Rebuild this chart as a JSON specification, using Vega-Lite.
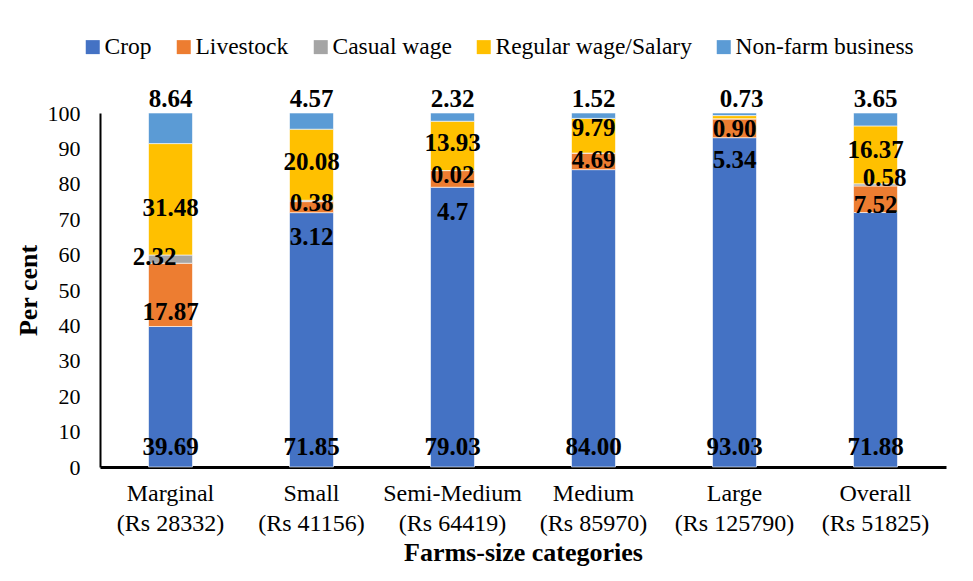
{
  "$schema": "https://vega.github.io/schema/vega-lite/v6.json",
  "width": 846,
  "height": 354,
  "autosize": "none",
  "padding": {"left": 100, "top": 113, "right": 27, "bottom": 114},
  "background": "white",
  "config": {"view": {"stroke": null}, "font": "Liberation Serif"},
  "data": {"values": [
    {"cat": "Marginal (Rs 28332)", "series": "Crop", "ord": 1, "value": 39.69, "label": "39.69"},
    {"cat": "Marginal (Rs 28332)", "series": "Livestock", "ord": 2, "value": 17.87, "label": "17.87"},
    {"cat": "Marginal (Rs 28332)", "series": "Casual wage", "ord": 3, "value": 2.32, "label": "2.32"},
    {"cat": "Marginal (Rs 28332)", "series": "Regular wage/Salary", "ord": 4, "value": 31.48, "label": "31.48"},
    {"cat": "Marginal (Rs 28332)", "series": "Non-farm business", "ord": 5, "value": 8.64, "label": "8.64"},
    {"cat": "Small (Rs 41156)", "series": "Crop", "ord": 1, "value": 71.85, "label": "71.85"},
    {"cat": "Small (Rs 41156)", "series": "Livestock", "ord": 2, "value": 3.12, "label": "3.12"},
    {"cat": "Small (Rs 41156)", "series": "Casual wage", "ord": 3, "value": 0.38, "label": "0.38"},
    {"cat": "Small (Rs 41156)", "series": "Regular wage/Salary", "ord": 4, "value": 20.08, "label": "20.08"},
    {"cat": "Small (Rs 41156)", "series": "Non-farm business", "ord": 5, "value": 4.57, "label": "4.57"},
    {"cat": "Semi-Medium (Rs 64419)", "series": "Crop", "ord": 1, "value": 79.03, "label": "79.03"},
    {"cat": "Semi-Medium (Rs 64419)", "series": "Livestock", "ord": 2, "value": 4.7, "label": "4.7"},
    {"cat": "Semi-Medium (Rs 64419)", "series": "Casual wage", "ord": 3, "value": 0.02, "label": "0.02"},
    {"cat": "Semi-Medium (Rs 64419)", "series": "Regular wage/Salary", "ord": 4, "value": 13.93, "label": "13.93"},
    {"cat": "Semi-Medium (Rs 64419)", "series": "Non-farm business", "ord": 5, "value": 2.32, "label": "2.32"},
    {"cat": "Medium (Rs 85970)", "series": "Crop", "ord": 1, "value": 84.0, "label": "84.00"},
    {"cat": "Medium (Rs 85970)", "series": "Livestock", "ord": 2, "value": 4.69, "label": "4.69"},
    {"cat": "Medium (Rs 85970)", "series": "Casual wage", "ord": 3, "value": 0, "label": ""},
    {"cat": "Medium (Rs 85970)", "series": "Regular wage/Salary", "ord": 4, "value": 9.79, "label": "9.79"},
    {"cat": "Medium (Rs 85970)", "series": "Non-farm business", "ord": 5, "value": 1.52, "label": "1.52"},
    {"cat": "Large (Rs 125790)", "series": "Crop", "ord": 1, "value": 93.03, "label": "93.03"},
    {"cat": "Large (Rs 125790)", "series": "Livestock", "ord": 2, "value": 5.34, "label": "5.34"},
    {"cat": "Large (Rs 125790)", "series": "Casual wage", "ord": 3, "value": 0, "label": ""},
    {"cat": "Large (Rs 125790)", "series": "Regular wage/Salary", "ord": 4, "value": 0.9, "label": "0.90"},
    {"cat": "Large (Rs 125790)", "series": "Non-farm business", "ord": 5, "value": 0.73, "label": "0.73"},
    {"cat": "Overall (Rs 51825)", "series": "Crop", "ord": 1, "value": 71.88, "label": "71.88"},
    {"cat": "Overall (Rs 51825)", "series": "Livestock", "ord": 2, "value": 7.52, "label": "7.52"},
    {"cat": "Overall (Rs 51825)", "series": "Casual wage", "ord": 3, "value": 0.58, "label": "0.58"},
    {"cat": "Overall (Rs 51825)", "series": "Regular wage/Salary", "ord": 4, "value": 16.37, "label": "16.37"},
    {"cat": "Overall (Rs 51825)", "series": "Non-farm business", "ord": 5, "value": 3.65, "label": "3.65"}
  ]},
  "transform": [
    {"stack": "value", "groupby": ["cat"], "sort": [{"field": "ord"}], "as": ["y0", "y1"]},
    {"calculate": "split(datum.cat, ' (')[0] + '|' + datum.series", "as": "key"}
  ],
  "encoding": {
    "x": {
      "field": "cat", "type": "nominal", "sort": null,
      "scale": {"paddingInner": 0.688, "paddingOuter": 0.344},
      "axis": {
        "title": "Farms-size categories", "titleFontSize": 26, "titleFontWeight": "bold",
        "titleFont": "Liberation Serif", "titleColor": "black", "titlePadding": 4,
        "labelExpr": "[split(datum.value, ' (')[0], '(' + split(datum.value, ' (')[1]]",
        "labelFontSize": 24, "labelFont": "Liberation Serif", "labelColor": "black",
        "labelPadding": 14, "labelLineHeight": 30, "labelAngle": 0, "labelLimit": 200,
        "ticks": false, "domainColor": "black", "domainWidth": 3
      }
    }
  },
  "layer": [
    {
      "mark": {"type": "bar", "stroke": "white", "strokeWidth": 0.6},
      "encoding": {
        "y": {
          "field": "y1", "type": "quantitative",
          "scale": {"domain": [0, 100], "nice": false},
          "axis": {
            "title": "Per cent", "titleFontSize": 26, "titleFontWeight": "bold",
            "titleFont": "Liberation Serif", "titleColor": "black", "titlePadding": 6,
            "values": [0, 10, 20, 30, 40, 50, 60, 70, 80, 90, 100],
            "labelFontSize": 22, "labelFont": "Liberation Serif", "labelColor": "black",
            "labelPadding": 20, "ticks": false, "grid": false,
            "domainColor": "black", "domainWidth": 2
          }
        },
        "y2": {"field": "y0"},
        "color": {
          "field": "series", "type": "nominal",
          "scale": {
            "domain": ["Crop", "Livestock", "Casual wage", "Regular wage/Salary", "Non-farm business"],
            "range": ["#4472C4", "#ED7D31", "#A5A5A5", "#FFC000", "#5B9BD5"]
          },
          "legend": {
            "orient": "none", "legendX": -19, "legendY": -78, "direction": "horizontal",
            "title": null, "symbolType": "square", "symbolSize": 196, "symbolStrokeWidth": 0,
            "labelFontSize": 23.5, "labelFont": "Liberation Serif", "labelColor": "black",
            "columnPadding": 20, "labelOffset": 0, "labelLimit": 400
          }
        }
      }
    },
    {
      "transform": [
        {"filter": "datum.value > 0"},
        {"calculate": "datum.series === 'Crop' ? 0 : (datum.series === 'Non-farm business' ? datum.y1 : (datum.y0 + datum.y1) / 2)", "as": "ly"}
      ],
      "mark": {
        "type": "text", "font": "Liberation Sans Narrow, Liberation Serif", "fontWeight": "bold",
        "fontSize": 25, "baseline": "middle", "align": "center", "color": "black",
        "dy": {"expr": "datum.series === 'Crop' ? -20 : (datum.series === 'Non-farm business' ? -14 : (({'Marginal|Livestock': 17, 'Marginal|Casual wage': -2, 'Marginal|Regular wage/Salary': 9, 'Small|Livestock': 30, 'Small|Casual wage': 2, 'Small|Regular wage/Salary': -3, 'Semi-Medium|Livestock': 33, 'Semi-Medium|Casual wage': 4, 'Semi-Medium|Regular wage/Salary': -3, 'Medium|Livestock': -1, 'Medium|Regular wage/Salary': -8, 'Large|Livestock': 32, 'Large|Regular wage/Salary': 12, 'Overall|Livestock': 6, 'Overall|Casual wage': -7, 'Overall|Regular wage/Salary': -5})[datum.key]) || 0)"},
        "dx": {"expr": "({'Marginal|Casual wage': -16, 'Overall|Casual wage': 9, 'Large|Non-farm business': 7})[datum.key] || 0"}
      },
      "encoding": {
        "y": {
          "field": "ly", "type": "quantitative",
          "axis": {
            "title": "Per cent", "titleFontSize": 26, "titleFontWeight": "bold",
            "titleFont": "Liberation Serif", "titleColor": "black", "titlePadding": 6,
            "values": [0, 10, 20, 30, 40, 50, 60, 70, 80, 90, 100],
            "labelFontSize": 22, "labelFont": "Liberation Serif", "labelColor": "black",
            "labelPadding": 20, "ticks": false, "grid": false,
            "domainColor": "black", "domainWidth": 2
          }
        },
        "text": {"field": "label"}
      }
    }
  ]
}
